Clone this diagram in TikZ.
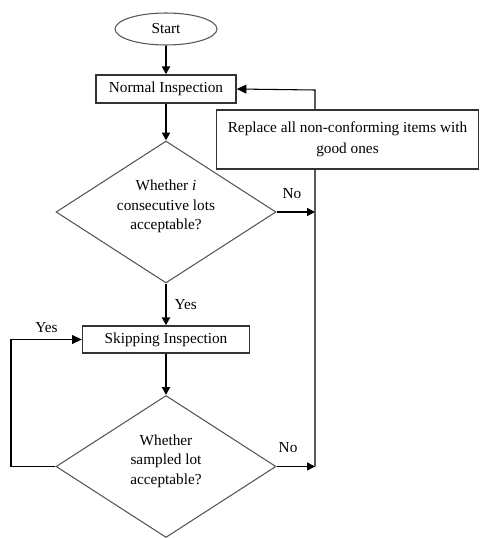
\documentclass[tikz,border=0pt]{standalone}
\usepackage{fontspec}
\setmainfont{Liberation Serif}
\usetikzlibrary{arrows.meta,positioning,shapes.geometric}
\definecolor{trait}{HTML}{333333}
\definecolor{contour}{HTML}{555555}
\tikzset{
  boite/.style={draw=trait,line width=0.8pt,fill=white,align=center,inner sep=2pt},
  losange/.style={diamond,aspect=1.6,draw=contour,line width=0.6pt,align=center,inner sep=0pt,
                  minimum width=4.4cm,minimum height=2.84cm},
  fleche/.style={-{Triangle[length=4.5pt,width=4.5pt]},line width=1.2pt,black},
  ligne/.style={-{Triangle[length=5.5pt,width=5pt]},line width=0.6pt,black},
}
\begin{document}
\begin{tikzpicture}[x=0.02cm,y=-0.02cm,font=\fontsize{8.7}{11}\selectfont]
  \useasboundingbox (0,0) rectangle (480,538);
  \node[ellipse,draw=contour,line width=0.6pt,minimum width=2.04cm,minimum height=0.64cm,inner sep=0pt] (start) at (166,29) {Start};
  \node[boite,minimum width=2.8cm,minimum height=0.56cm] (normal) at (166,89) {Normal Inspection};
  \node[losange] (test1) at (166,212) {Whether \textit{i}\\consecutive lots\\acceptable?\\[-3pt]\mbox{}};
  \node[boite,minimum width=3.34cm,minimum height=0.54cm] (skip) at (166,339.5) {Skipping Inspection};
  \node[losange] (test2) at (166,466.5) {Whether\\sampled lot\\acceptable?\\[-3pt]\mbox{}};
  \coordinate (bus) at (315,90);
  \coordinate (boucle) at (11,0);
  % main flow
  \draw[fleche] (start) -- (normal);
  \draw[fleche] (normal) -- (test1);
  \draw[fleche] (test1) -- node[right=1pt]{Yes} (skip);
  \draw[fleche] (skip) -- (test2);
  % No branches and feedback
  \draw[fleche,line width=0.9pt] (test1.east) -- node[pos=0.4,above=4pt]{No} (test1.east -| bus);
  \draw[fleche,line width=0.9pt] (test2.east) -- node[pos=0.3,above=4pt]{No} (test2.east -| bus);
  \draw[ligne] (test2.east -| bus) -- (bus) -- (normal.east);
  % Yes loop
  \draw[ligne] (test2.west) -- (test2.west -| boucle) -- (boucle |- skip.west) -- node[above]{Yes} (skip.west);
  \node[boite,minimum width=5.24cm,minimum height=1.18cm] (replace) at (347.5,139.5) {Replace all non-conforming items with\\[1pt]good ones};
\end{tikzpicture}
\end{document}
